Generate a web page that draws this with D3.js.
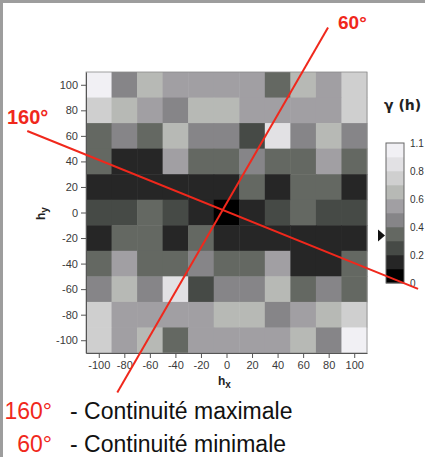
<!DOCTYPE html>
<html>
<head>
<meta charset="utf-8">
<script src="https://cdn.jsdelivr.net/npm/d3@7"></script>
<style>
  html, body { margin: 0; padding: 0; background: #fff; }
  svg { display: block; }
</style>
</head>
<body>
<div id="chart"></div>
<script>
// lag values (cell centres)
var hxValues = [-100, -80, -60, -40, -20, 0, 20, 40, 60, 80, 100];
var hyValues = [100, 80, 60, 40, 20, 0, -20, -40, -60, -80, -100];

// gamma(h), one row per hy (top to bottom)
var gammaRows = [
  [0.95, 0.45, 0.65, 0.55, 0.55, 0.55, 0.55, 0.35, 0.65, 0.55, 0.75],
  [0.75, 0.65, 0.55, 0.45, 0.65, 0.65, 0.55, 0.55, 0.55, 0.55, 0.75],
  [0.35, 0.45, 0.35, 0.65, 0.45, 0.45, 0.25, 0.85, 0.45, 0.65, 0.45],
  [0.35, 0.15, 0.15, 0.55, 0.35, 0.35, 0.45, 0.35, 0.35, 0.55, 0.35],
  [0.15, 0.15, 0.15, 0.15, 0.15, 0.15, 0.35, 0.15, 0.35, 0.35, 0.15],
  [0.25, 0.25, 0.35, 0.25, 0.15, 0.05, 0.15, 0.25, 0.35, 0.25, 0.25],
  [0.15, 0.35, 0.35, 0.15, 0.35, 0.15, 0.15, 0.15, 0.15, 0.15, 0.15],
  [0.35, 0.55, 0.35, 0.35, 0.45, 0.35, 0.35, 0.55, 0.15, 0.15, 0.35],
  [0.45, 0.65, 0.45, 0.85, 0.25, 0.45, 0.45, 0.65, 0.35, 0.45, 0.35],
  [0.75, 0.55, 0.55, 0.55, 0.55, 0.65, 0.65, 0.45, 0.55, 0.65, 0.75],
  [0.75, 0.55, 0.65, 0.35, 0.55, 0.55, 0.55, 0.55, 0.65, 0.45, 0.95]
];

var greyLevels = ["#000000", "#262626", "#464a46", "#646862", "#868588",
                  "#a19fa3", "#b7b9b5", "#cfcfcf", "#e2e1e4", "#f1f0f4"];

var legendTickValues = [0, 0.2, 0.4, 0.6, 0.8, 1.0];
var legendTickLabels = ["0", "0.2", "0.4", "0.6", "0.8", "1.1"];
var markerValue = 0.34;

// anisotropy directions: label, and the slope as drawn on the slide
var directions = [
  {label: "160°", drawnAngle: 158, text: "- Continuité maximale"},
  {label: "60°", drawnAngle: 60, text: "- Continuité minimale"}
];
var crossing = [-3, 2];
var halfLength = 165;

var width = 425, height = 457;
var plot = {left: 86, top: 72, right: 367, bottom: 353};

var svg = d3.select("#chart").append("svg")
  .attr("width", width)
  .attr("height", height)
  .style("font-family", "Liberation Sans, Arial, sans-serif");

svg.append("rect").attr("width", width).attr("height", height).attr("fill", "#fff");
// grey frame of the slide (top and left)
svg.append("rect").attr("x", 0).attr("y", 0).attr("width", width).attr("height", 3).attr("fill", "#9d9d9d");
svg.append("rect").attr("x", 0).attr("y", 0).attr("width", 3).attr("height", height).attr("fill", "#9d9d9d");

var x = d3.scaleLinear().domain([-110, 110]).range([plot.left, plot.right]);
var y = d3.scaleLinear().domain([-110, 110]).range([plot.bottom, plot.top]);
var color = d3.scaleQuantize().domain([0, 1]).range(greyLevels);

var cellW = x(20) - x(0);
var cellH = y(0) - y(20);

var cells = [];
gammaRows.forEach(function(row, r) {
  row.forEach(function(v, c) {
    cells.push({hx: hxValues[c], hy: hyValues[r], value: v});
  });
});

svg.append("g")
  .selectAll("rect")
  .data(cells)
  .join("rect")
    .attr("x", d => x(d.hx) - cellW / 2)
    .attr("y", d => y(d.hy) - cellH / 2)
    .attr("width", cellW + 0.5)
    .attr("height", cellH + 0.5)
    .attr("fill", d => color(d.value));

svg.append("rect")
  .attr("x", plot.left).attr("y", plot.top)
  .attr("width", plot.right - plot.left).attr("height", plot.bottom - plot.top)
  .attr("fill", "none").attr("stroke", "#8a8a8a").attr("stroke-width", 0.8);

// axes (plain hyphen for negatives, as on the slide)
var fmt = d => String(d);
var xAxis = svg.append("g")
  .attr("transform", "translate(0," + plot.bottom + ")")
  .call(d3.axisBottom(x).tickValues(hxValues).tickFormat(fmt).tickSize(5).tickPadding(3).tickSizeOuter(0));
var yAxis = svg.append("g")
  .attr("transform", "translate(" + plot.left + ",0)")
  .call(d3.axisLeft(y).tickValues(hyValues).tickFormat(fmt).tickSize(5).tickPadding(3).tickSizeOuter(0));

[xAxis, yAxis].forEach(function(a) {
  a.select(".domain").attr("stroke", "#555");
  a.selectAll(".tick line").attr("stroke", "#555");
  a.selectAll(".tick text").attr("fill", "#3a3a3a").style("font-size", "11px")
    .style("font-family", "Liberation Sans, Arial, sans-serif");
});

// axis titles
var hx = svg.append("text")
  .attr("x", 218).attr("y", 385)
  .attr("fill", "#222").style("font-size", "12px").style("font-weight", "bold");
hx.append("tspan").text("h");
hx.append("tspan").attr("dy", 3).style("font-size", "10px").text("x");

var hy = svg.append("text")
  .attr("transform", "translate(45,220) rotate(-90)")
  .attr("fill", "#222").style("font-size", "12px").style("font-weight", "bold");
hy.append("tspan").text("h");
hy.append("tspan").attr("dy", 3).style("font-size", "10px").text("y");

// colour legend
var legend = {x: 386, w: 18, top: 143, bottom: 283};
var ly = d3.scaleLinear().domain([0, 1]).range([legend.bottom, legend.top]);
var bandStep = 1 / greyLevels.length;

svg.append("g")
  .selectAll("rect")
  .data(greyLevels)
  .join("rect")
    .attr("x", legend.x)
    .attr("y", (d, i) => ly((i + 1) * bandStep))
    .attr("width", legend.w)
    .attr("height", (d, i) => ly(i * bandStep) - ly((i + 1) * bandStep) + 0.3)
    .attr("fill", d => d);

svg.append("rect")
  .attr("x", legend.x).attr("y", legend.top)
  .attr("width", legend.w).attr("height", legend.bottom - legend.top)
  .attr("fill", "none").attr("stroke", "#666").attr("stroke-width", 1);

svg.append("g")
  .selectAll("text")
  .data(legendTickValues)
  .join("text")
    .attr("x", legend.x + legend.w + 6)
    .attr("y", d => ly(d) + 4)
    .attr("fill", "#333")
    .style("font-size", "10px")
    .text((d, i) => legendTickLabels[i]);

var my = ly(markerValue);
svg.append("path")
  .attr("d", "M" + (legend.x - 8) + "," + (my - 6) + "L" + (legend.x - 1) + "," + my + "L" + (legend.x - 8) + "," + (my + 6) + "Z")
  .attr("fill", "#111");

svg.append("text")
  .attr("x", 384).attr("y", 110)
  .attr("fill", "#222")
  .style("font-size", "14px").style("font-weight", "bold")
  .style("font-family", "DejaVu Sans, sans-serif")
  .text("γ (h)");

// direction lines
directions.forEach(function(d) {
  var a = d.drawnAngle * Math.PI / 180;
  var dx = Math.cos(a) * halfLength, dy = Math.sin(a) * halfLength;
  svg.append("line")
    .attr("x1", x(crossing[0] - dx)).attr("y1", y(crossing[1] - dy))
    .attr("x2", x(crossing[0] + dx)).attr("y2", y(crossing[1] + dy))
    .attr("stroke", "#f0281c").attr("stroke-width", 2);
});

svg.append("text")
  .attr("x", 7).attr("y", 124)
  .attr("fill", "#f0281c")
  .style("font-size", "20px").style("font-weight", "bold")
  .text(directions[0].label);

svg.append("text")
  .attr("x", 338).attr("y", 29)
  .attr("fill", "#f0281c")
  .style("font-size", "19px").style("font-weight", "bold")
  .text(directions[1].label);

// bottom notes
var notes = svg.append("g");
directions.forEach(function(d, i) {
  var base = 419 + i * 33;
  notes.append("text")
    .attr("x", 52).attr("y", base)
    .attr("text-anchor", "end")
    .attr("fill", "#f0281c")
    .style("font-size", "23px")
    .text(d.label);
  notes.append("text")
    .attr("x", 70).attr("y", base)
    .attr("fill", "#111")
    .style("font-size", "23px")
    .text(d.text);
});
</script>
</body>
</html>
